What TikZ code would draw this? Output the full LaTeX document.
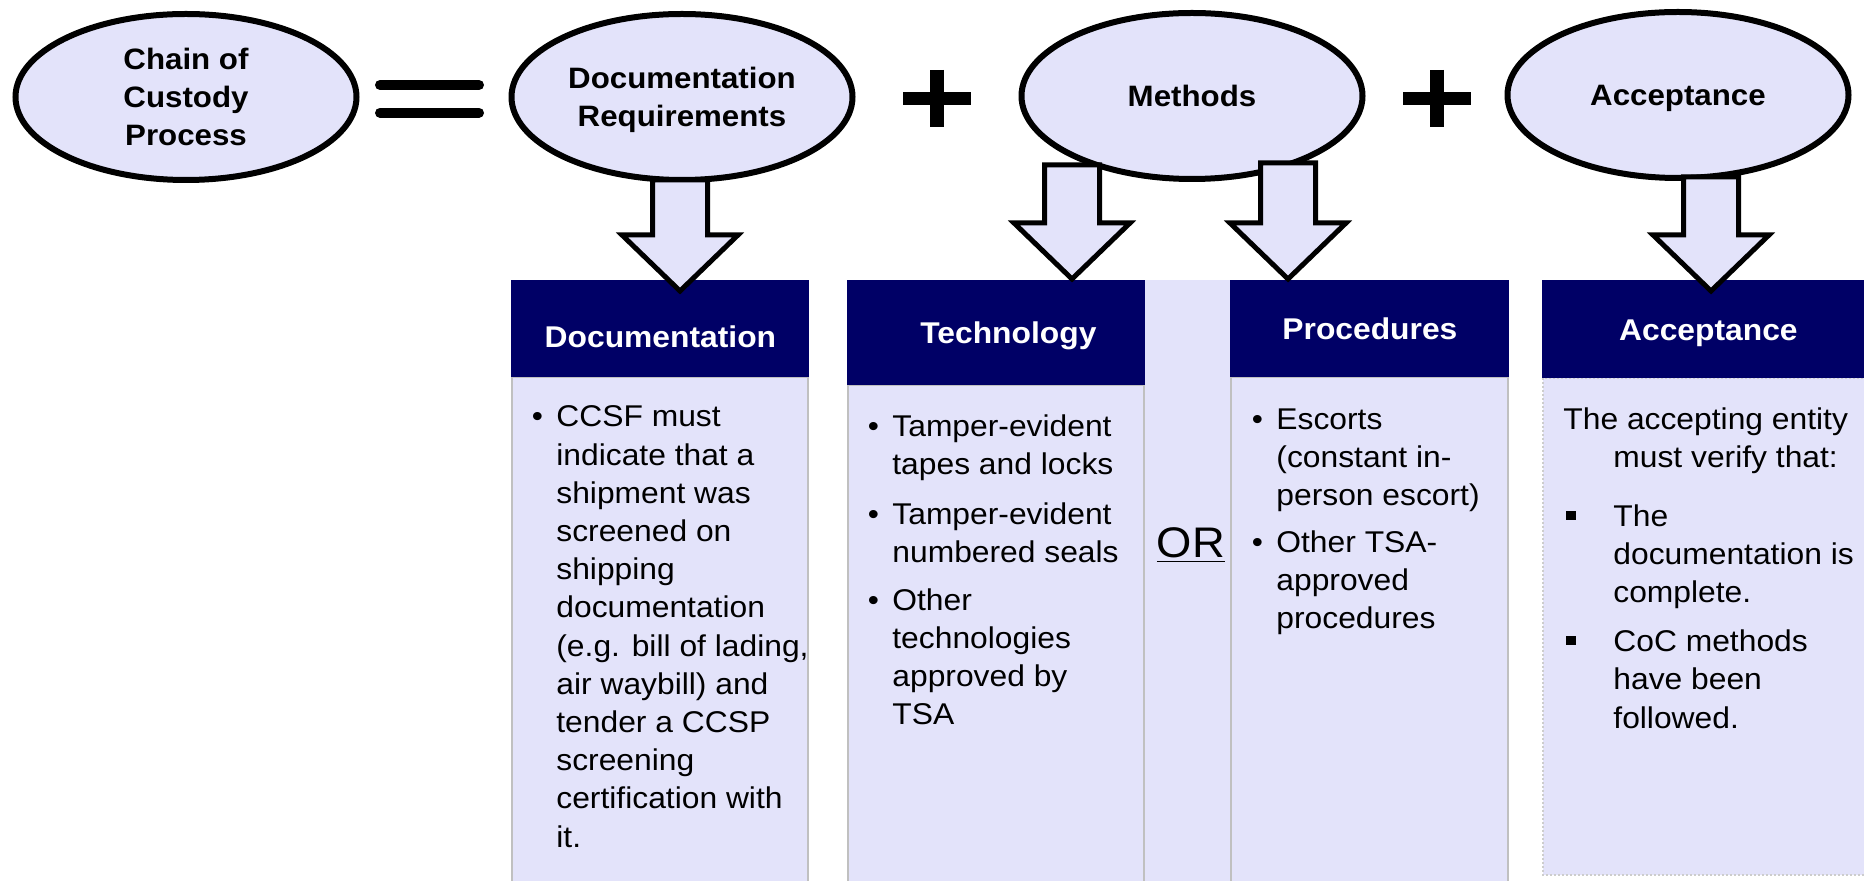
\documentclass[tikz,border=0pt]{standalone}
\usepackage{fontspec}
\setmainfont{Liberation Sans}[FakeStretch=1.06]
\usetikzlibrary{shapes.geometric}
\definecolor{lavender}{RGB}{227,227,250}
\definecolor{navyhead}{RGB}{0,0,102}
\definecolor{panelgray}{RGB}{192,192,192}
\newcommand{\itembul}{\makebox[12.25pt][l]{\textbullet}}
\newcommand{\itemind}{\hspace*{12.25pt}}
\newcommand{\sqbul}{\hspace*{1.5pt}\rule[3.2pt]{5pt}{4.5pt}\hspace*{18.5pt}}
\newcommand{\fatarrow}[3]{%
  \draw[blockarrow] (#1-27.5,#2) -- (#1+27.5,#2) -- (#1+27.5,#3-56) -- (#1+58,#3-56)
    -- (#1,#3) -- (#1-58,#3-56) -- (#1-27.5,#3-56) -- cycle;}
\tikzset {
    bubble/.style={ellipse, draw, line width=3pt, fill=lavender, minimum width=170.5pt,
      minimum height=83pt, inner sep=0pt, align=center, text depth=0pt,
      font=\fontsize{14.75}{19}\selectfont\bfseries},
    headbox/.style={rectangle, fill=navyhead, text=white, inner sep=0pt, anchor=north west,
      text height=11pt, text depth=0pt, font=\fontsize{15}{18}\selectfont\bfseries},
    panel/.style={fill=lavender, draw=panelgray, line width=1pt},
    % anchored on the baseline of the last line
    listtext/.style={anchor=base west, align=left, inner sep=0pt,
      font=\fontsize{15}{19.1}\selectfont},
    blockarrow/.style={draw, line width=2.5pt, fill=lavender},
    symbolbar/.style={line width=5pt, line cap=round}
}
\begin{document}
\begin{tikzpicture}[x=0.5pt, y=-0.5pt]
\useasboundingbox (0,0) rectangle (1864,881);
\clip (0,0) rectangle (1864,881);

% top row
\node[bubble] (chain) at (186,97) {Chain of\\Custody\\Process};
\node[bubble] (docreq) at (682,97) {Documentation\\Requirements};
\node[bubble] (methods) at (1192,96) {Methods};
\node[bubble] (accept) at (1678,95) {Acceptance};

\draw[symbolbar] (380,85) -- (479,85);
\draw[symbolbar] (380,112.7) -- (479,112.7);
\foreach \cx in {937,1437} {
  \draw[line width=7pt] (\cx,70) -- (\cx,127);
  \draw[line width=6.5pt] (\cx-34,98.5) -- (\cx+34,98.5);
}

% columns
\draw[panel] (512,377) rectangle (808,900);
\draw[panel] (848,385) rectangle (1144,900);
\fill[lavender] (1145,280) rectangle (1230,900);
\draw[panel] (1231,377) rectangle (1508,900);
\draw[panel, draw=panelgray!80, dash pattern=on 1pt off 1pt] (1543,378) rectangle (1900,875);

\node[headbox, minimum width=149pt, minimum height=48.5pt, text height=18.5pt] (dochead) at (511,280) {Documentation};
\node[headbox, minimum width=149pt, minimum height=52.5pt] (techhead) at (847,280) {\hspace*{12pt}Technology};
\node[headbox, minimum width=139.5pt, minimum height=48.5pt] (prochead) at (1230,280) {Procedures};
\node[headbox, minimum width=166pt, minimum height=49pt] (acchead) at (1542,280) {Acceptance};

\fatarrow{680}{180}{291}
\fatarrow{1072}{165}{279}
\fatarrow{1288}{163}{279}
\fatarrow{1711}{177}{291}

% column texts
\node[listtext] (doctext) at (531.5,847) {\itembul CCSF must\\
  \itemind indicate that a\\ \itemind shipment was\\ \itemind screened on\\
  \itemind shipping\\ \itemind documentation\\ \itemind (e.g. bill of lading,\\
  \itemind air waybill) and\\ \itemind tender a CCSP\\ \itemind screening\\
  \itemind certification with\\ \itemind it.};
\node[listtext] (techtext) at (867.5,725) {\itembul Tamper-evident\\
  \itemind tapes and locks\\[5.5pt]
  \itembul Tamper-evident\\ \itemind numbered seals\\[5pt]
  \itembul Other\\ \itemind technologies\\ \itemind approved by\\ \itemind TSA};
\node[anchor=base, inner sep=0pt, font=\fontsize{21.4}{24}\selectfont] (orword) at (1191,558) {\underline{OR}};
\node[listtext] (proctext) at (1251.5,629) {\itembul Escorts\\
  \itemind (constant in-\\ \itemind person escort)\\[4.25pt]
  \itembul Other TSA-\\ \itemind approved\\ \itemind procedures};
\node[listtext] (acctext) at (1563,728) {The accepting entity\\
  \hspace*{25pt}must verify that:\\[10.25pt]
  \sqbul The\\ \hspace*{25pt}documentation is\\ \hspace*{25pt}complete.\\[5.25pt]
  \sqbul CoC methods\\ \hspace*{25pt}have been\\ \hspace*{25pt}followed.};
\end{tikzpicture}
\end{document}
